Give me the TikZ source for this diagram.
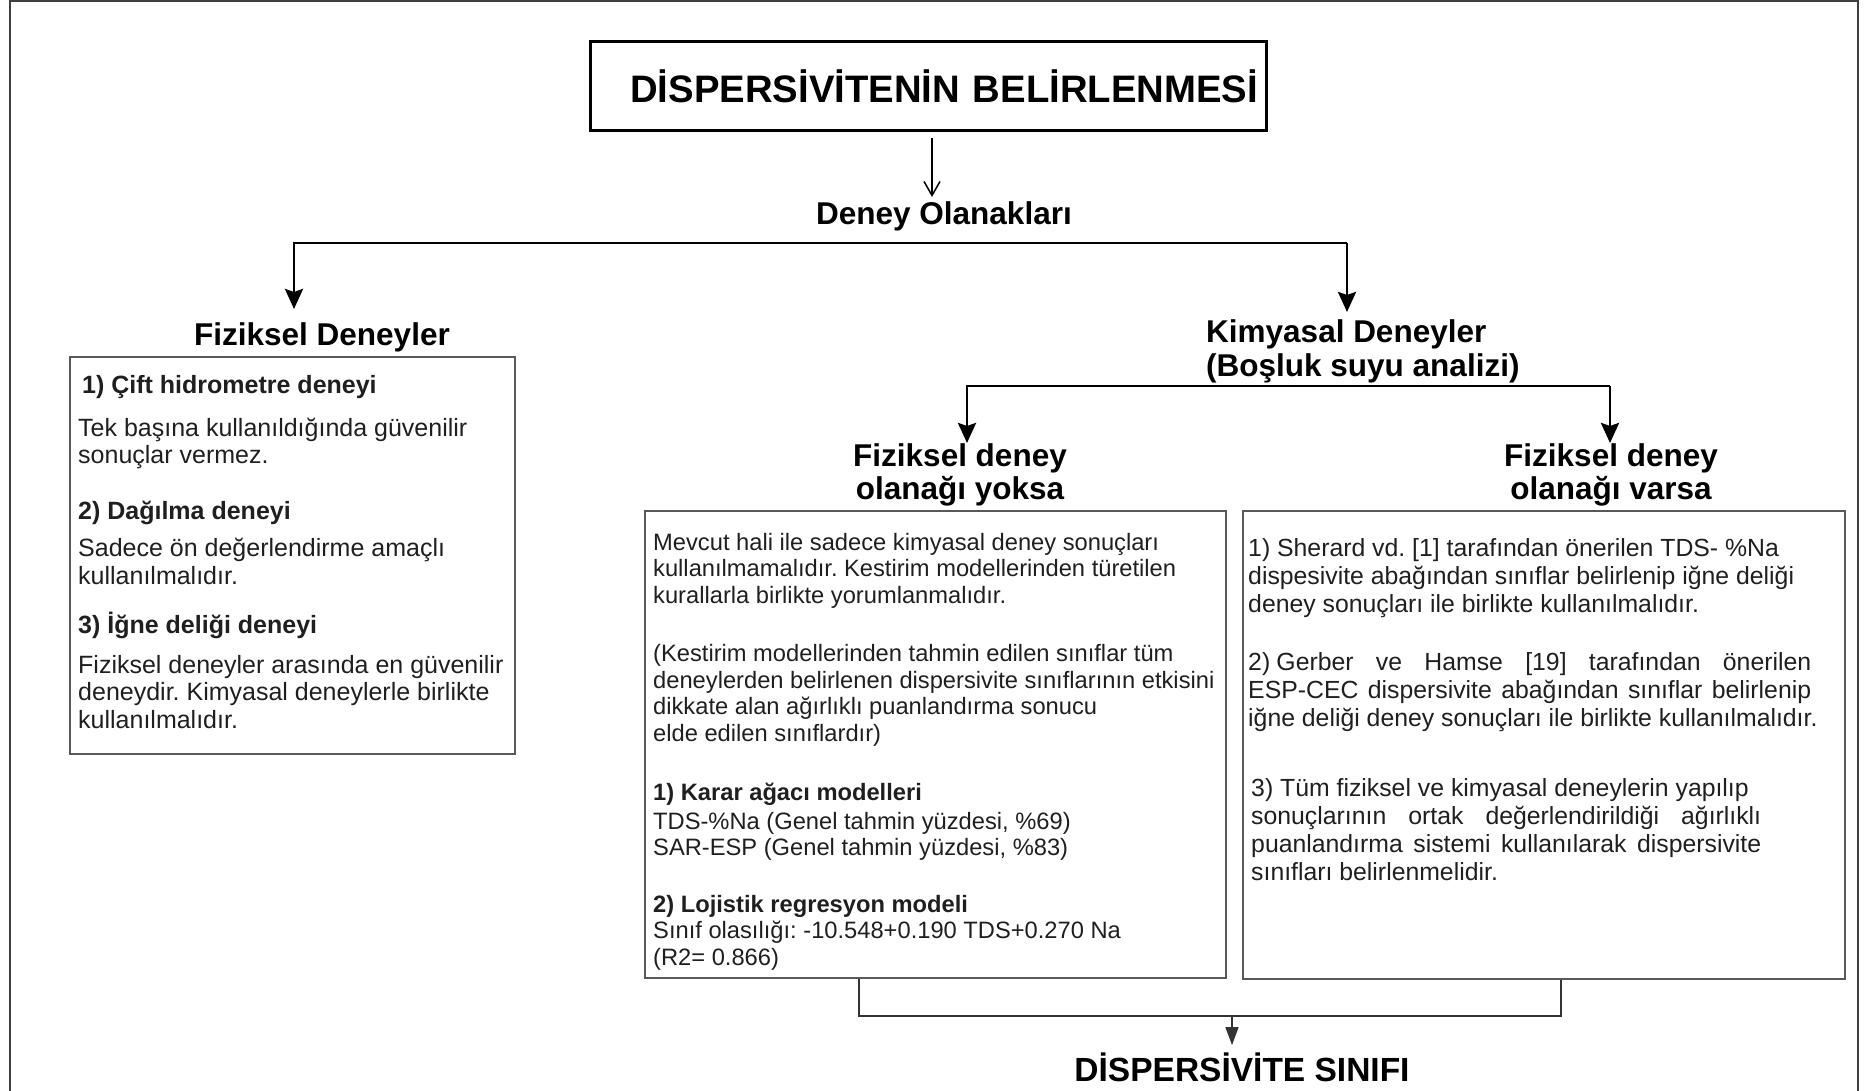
\documentclass[tikz,border=0pt]{standalone}
\usepackage{fontspec}
\setmainfont{Liberation Sans}
\frenchspacing
\usetikzlibrary{arrows.meta, positioning, calc}

\begin{document}
\begin{tikzpicture}[x=1pt, y=-1pt,
  heading/.style={font=\bfseries\fontsize{31.5}{33}\selectfont, inner sep=0pt},
  panel/.style={draw=black!65, line width=1.5pt, anchor=north west, inner sep=0pt},
  body/.style={anchor=base west, inner sep=0pt, align=left, text=black!88},
  bar/.style={line width=2.8pt, -{Stealth[length=20pt, width=18pt, inset=3pt]}},
  link/.style={draw=black!80, line width=1.5pt}
]
  \useasboundingbox (0,0) rectangle (1869,1091);

  % Outer frame (open at the bottom)
  \draw[black!75, line width=2pt] (10,1091) -- (10,1) -- (1858,1) -- (1858,1091);

  % Title
  \node[draw, line width=3pt, minimum height=89pt, text width=660pt, inner xsep=8pt,
        align=right, font=\bfseries\fontsize{38.3}{40}\selectfont] (title) at (928,86.5)
        {DİSPERSİVİTENİN BELİRLENMESİ};
  \node[heading, anchor=base] (olanak) at (944,225) {Deney Olanakları};
  \draw[line width=1.5pt, -{Straight Barb[length=14pt, width=16pt]}, shorten <=6pt, shorten >=5pt]
    ([xshift=4pt]title.south) -- ([xshift=4pt]title.south |- olanak.north);

  % First split (multi-line nodes are placed by their last baseline)
  \node[heading, anchor=base] (fizhead) at (322,345) {Fiziksel Deneyler};
  \node[heading, anchor=base west, align=left] (kimhead) at (1206,376)
    {Kimyasal Deneyler\\(Boşluk suyu analizi)};
  \coordinate (barL) at (294,243);
  \coordinate (barR) at (1347,243);
  \draw[bar, shorten >=13pt] (barR) -- (barL) -- (barL |- fizhead.north);
  \draw[bar, shorten >=8pt] (barR) -- (barR |- kimhead.north);

  % Second split
  \node[heading, anchor=base, align=center] (yokhead) at (960,499) {Fiziksel deney\\olanağı yoksa};
  \node[heading, anchor=base, align=center] (varhead) at (1611,499) {Fiziksel deney\\olanağı varsa};
  \coordinate (forkL) at (967,386);
  \coordinate (forkR) at (1610,386);
  \draw[bar] (forkR) -- (forkL) -- (forkL |- yokhead.north);
  \draw[bar] (forkR) -- (forkR |- varhead.north);

  % Panels
  \node[panel, minimum width=445pt, minimum height=397pt] (fizbox) at (69,356) {};
  \node[panel, minimum width=581pt, minimum height=467pt] (yokbox) at (644,510) {};
  \node[panel, minimum width=602pt, minimum height=468pt] (varbox) at (1242,510) {};

  \node[body, font=\fontsize{25}{27.5}\selectfont] (fiztext) at (78,728) {%
    \hspace*{4pt}\textbf{1) Çift hidrometre deneyi}\\[15.5pt]
    Tek başına kullanıldığında güvenilir\\
    sonuçlar vermez.\\[28.5pt]
    \textbf{2) Dağılma deneyi}\\[9.5pt]
    Sadece ön değerlendirme amaçlı\\
    kullanılmalıdır.\\[21.5pt]
    \textbf{3) İğne deliği deneyi}\\[12.5pt]
    Fiziksel deneyler arasında en güvenilir\\
    deneydir. Kimyasal deneylerle birlikte\\
    kullanılmalıdır.};

  \node[body, font=\fontsize{23.7}{26.5}\selectfont] (yoktext) at (653,965) {%
    Mevcut hali ile sadece kimyasal deney sonuçları\\
    kullanılmamalıdır. Kestirim modellerinden türetilen\\
    kurallarla birlikte yorumlanmalıdır.\\[32pt]
    (Kestirim modellerinden tahmin edilen sınıflar tüm\\
    deneylerden belirlenen dispersivite sınıflarının etkisini\\
    dikkate alan ağırlıklı puanlandırma sonucu\\
    elde edilen sınıflardır)\\[33pt]
    \textbf{1) Karar ağacı modelleri}\\[2pt]
    TDS-\%Na (Genel tahmin yüzdesi, \%69)\\
    SAR-ESP (Genel tahmin yüzdesi, \%83)\\[30pt]
    \textbf{2) Lojistik regresyon modeli}\\
    Sınıf olasılığı: -10.548+0.190 TDS+0.270 Na\\
    (R2= 0.866)};

  \node[body, font=\fontsize{24.8}{28}\selectfont] (vartext) at (1248,880) {%
    1) Sherard vd. [1] tarafından önerilen TDS- \%Na\\
    dispesivite abağından sınıflar belirlenip iğne deliği\\
    deney sonuçları ile birlikte kullanılmalıdır.\\[30pt]
    \makebox[563pt][s]{2)\kern0.25em Gerber ve Hamse [19] tarafından önerilen}\\
    \makebox[563pt][s]{ESP-CEC dispersivite abağından sınıflar belirlenip}\\
    iğne deliği deney sonuçları ile birlikte kullanılmalıdır.\\[42pt]
    \hspace*{3pt}3) Tüm fiziksel ve kimyasal deneylerin yapılıp\\
    \hspace*{3pt}\makebox[510pt][s]{sonuçlarının ortak değerlendirildiği ağırlıklı}\\
    \hspace*{3pt}\makebox[510pt][s]{puanlandırma sistemi kullanılarak dispersivite}\\
    \hspace*{3pt}sınıfları belirlenmelidir.};

  % Result
  \node[anchor=base, inner sep=0pt, font=\bfseries\fontsize{33.5}{36}\selectfont] (sinif) at (1242,1081)
    {DİSPERSİVİTE SINIFI};
  \coordinate (joinL) at (859,1016);
  \coordinate (joinR) at (1561,1016);
  \coordinate (joinM) at (1232,1016);
  \draw[link] (yokbox.south -| joinL) -- (joinL) -- (joinR) -- (varbox.south -| joinR);
  \draw[link, -{Triangle[length=18pt, width=13pt]}, shorten >=7pt] (joinM) -- (joinM |- sinif.north);
\end{tikzpicture}
\end{document}
